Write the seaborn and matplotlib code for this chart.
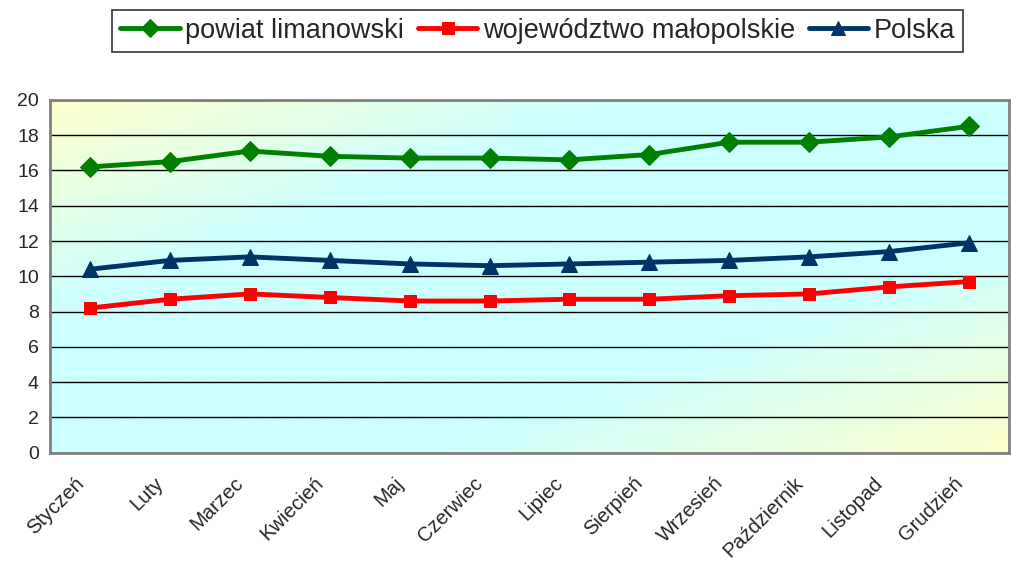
import numpy as np
import pandas as pd
import seaborn as sns
import matplotlib.pyplot as plt
from matplotlib.colors import LinearSegmentedColormap

miesiace = ['Styczeń', 'Luty', 'Marzec', 'Kwiecień', 'Maj', 'Czerwiec',
            'Lipiec', 'Sierpień', 'Wrzesień', 'Październik', 'Listopad', 'Grudzień']
powiat = [16.2, 16.5, 17.1, 16.8, 16.7, 16.7, 16.6, 16.9, 17.6, 17.6, 17.9, 18.5]
wojewodztwo = [8.2, 8.7, 9.0, 8.8, 8.6, 8.6, 8.7, 8.7, 8.9, 9.0, 9.4, 9.7]
polska = [10.4, 10.9, 11.1, 10.9, 10.7, 10.6, 10.7, 10.8, 10.9, 11.1, 11.4, 11.9]

df = pd.DataFrame({'x': range(len(miesiace)), 'powiat': powiat,
                   'woj': wojewodztwo, 'pl': polska})

sns.set_style("white")
plt.rcParams['font.family'] = ['Liberation Sans', 'DejaVu Sans']

fig = plt.figure(figsize=(10.11, 5.61), dpi=100)
ax = fig.add_axes([0.0495, 0.193, 0.9485, 0.629])

# gradient tlo: zolty (lewy gorny) - cyjan - zolty (prawy dolny)
cmap = LinearSegmentedColormap.from_list(
    'bg', [(0, '#ffffcc'), (0.3, '#ccffff'), (0.7, '#ccffff'), (1, '#ffffcc')])
gx, gy = np.meshgrid(np.linspace(0, 1, 300), np.linspace(0, 1, 300))
grad = 0.5 * gx + 0.5 * gy
ax.imshow(grad, cmap=cmap, extent=[0, 1, 0, 1], transform=ax.transAxes,
          aspect='auto', zorder=0, interpolation='bilinear', origin='upper')

sns.lineplot(data=df, x='x', y='powiat', ax=ax, color='#008000', lw=3.5,
             marker='D', markersize=10, markeredgecolor='#008000',
             label='powiat limanowski', zorder=3)
sns.lineplot(data=df, x='x', y='woj', ax=ax, color='#ff0000', lw=3.5,
             marker='s', markersize=9, markeredgecolor='#ff0000',
             label='województwo małopolskie', zorder=3)
sns.lineplot(data=df, x='x', y='pl', ax=ax, color='#003366', lw=3.5,
             marker='^', markersize=11, markeredgecolor='#003366',
             label='Polska', zorder=3)

ax.set_xlim(-0.5, 11.5)
ax.set_ylim(0, 20)
ax.set_yticks(range(0, 21, 2))
# etykiety miesiecy lekko w lewo od srodka kategorii (jak w Excelu)
ax.set_xticks(np.arange(12) - 0.2)
ax.set_xticklabels(miesiace, rotation=45, ha='right', rotation_mode='anchor',
                   fontsize=14.5)
ax.set_xticks(np.arange(-0.5, 12, 1), minor=True)
ax.tick_params(axis='x', which='major', length=0, pad=15)
ax.tick_params(axis='x', which='minor', length=6, width=1, color='black', direction='out')
ax.tick_params(axis='y', length=5, width=1, color='black', direction='out', labelsize=14, pad=3)
ax.grid(axis='y', color='black', lw=1, zorder=1)
ax.set_axisbelow(True)
ax.set_xlabel('')
ax.set_ylabel('')

for s in ['top', 'right', 'left', 'bottom']:
    ax.spines[s].set_color('#808080')
    ax.spines[s].set_linewidth(2)

h, l = ax.get_legend_handles_labels()
ax.get_legend().remove()
leg = fig.legend(h, l, loc='center', bbox_to_anchor=(0.532, 0.945), ncol=3,
                 fontsize=19.5, frameon=True, fancybox=False, edgecolor='black',
                 handlelength=2.2, handletextpad=0.2, columnspacing=0.5,
                 borderpad=0.3, borderaxespad=0, markerscale=0.9)
leg.get_frame().set_linewidth(1.2)

plt.savefig('out.png', dpi=100)
